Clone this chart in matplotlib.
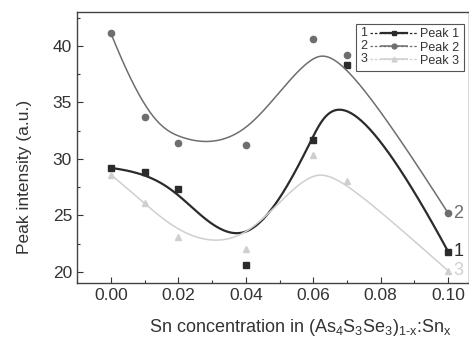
import matplotlib
matplotlib.use("Agg")
import matplotlib.pyplot as plt
import numpy as np
from matplotlib.lines import Line2D
from matplotlib.text import Text
from matplotlib.legend_handler import HandlerBase
from matplotlib.ticker import MultipleLocator

plt.rcParams['font.family'] = ['Liberation Sans', 'DejaVu Sans']
plt.rcParams['mathtext.fontset'] = 'custom'
plt.rcParams['mathtext.rm'] = 'Liberation Sans'
plt.rcParams['mathtext.it'] = 'Liberation Sans'

x = [0.00, 0.01, 0.02, 0.04, 0.06, 0.07, 0.10]
peak1 = [29.2, 28.8, 27.3, 20.6, 31.7, 38.3, 21.8]
peak2 = [41.1, 33.7, 31.4, 31.2, 40.6, 39.2, 25.2]
peak3 = [28.6, 26.1, 23.1, 22.0, 30.3, 28.0, 20.1]


# clamped cubic B-spline with the data points as control points (like Origin's B-spline connect)
def bspline(px, py, n=300, k=3):
    P = np.column_stack([px, py])
    m = len(P)
    knots = np.concatenate([np.zeros(k), np.linspace(0, 1, m - k + 1), np.ones(k)])
    t = np.linspace(0, 1, n)
    N = np.zeros((n, len(knots) - 1))
    for i in range(len(knots) - 1):
        N[:, i] = (t >= knots[i]) & (t < knots[i + 1])
    N[-1, m - 1] = 1.0
    for d in range(1, k + 1):
        Nn = np.zeros((n, len(knots) - 1 - d))
        for i in range(len(knots) - 1 - d):
            a = knots[i + d] - knots[i]
            b = knots[i + d + 1] - knots[i + 1]
            left = (t - knots[i]) / a * N[:, i] if a > 0 else 0
            right = (knots[i + d + 1] - t) / b * N[:, i + 1] if b > 0 else 0
            Nn[:, i] = left + right
        N = Nn
    C = N @ P
    return C[:, 0], C[:, 1]


series = [
    ("Peak 1", "1", peak1, "#2b2b2b", "s", 1.6),
    ("Peak 2", "2", peak2, "#6e6e6e", "o", 1.1),
    ("Peak 3", "3", peak3, "#cfcfcf", "^", 1.1),
]


class NumberedHandler(HandlerBase):
    def __init__(self, num, color, marker, lw):
        super().__init__()
        self.num, self.color, self.marker, self.lw = num, color, marker, lw

    def create_artists(self, legend, orig_handle, xdescent, ydescent,
                       width, height, fontsize, trans):
        yc = height / 2 - ydescent
        txt = Text(-xdescent, yc, self.num, fontsize=fontsize, va="center",
                   color="#333333", transform=trans)
        x0 = -xdescent + fontsize * 0.8
        l1 = Line2D([x0, width - xdescent], [yc, yc], color=self.color, lw=0.9,
                    ls=(0, (2, 1.5)), transform=trans)
        x1 = x0 + (width - xdescent - x0) * 0.22
        x2 = x0 + (width - xdescent - x0) * 0.78
        l2 = Line2D([x1, x2], [yc, yc], color=self.color, lw=self.lw, transform=trans)
        mk = Line2D([(x1 + x2) / 2], [yc], color=self.color, marker=self.marker,
                    ms=3.5, ls="none", transform=trans)
        return [l1, l2, mk, txt]


fig = plt.figure(figsize=(4.69, 3.42), dpi=100)
ax = fig.add_axes([0.164, 0.173, 0.836, 0.792])

handles = []
handler_map = {}
for name, num, vals, col, mk, lw in series:
    cx, cy = bspline(x, vals)
    ax.plot(cx, cy, color=col, lw=lw)
    h, = ax.plot(x, vals, ls="none", marker=mk, color=col, ms=4.5)
    handles.append(h)
    handler_map[h] = NumberedHandler(num, col, mk, lw)
    ax.text(x[-1] + 0.0015, vals[-1], num, color=col, fontsize=13, va="center", ha="left")

leg = ax.legend(handles, [s[0] for s in series], handler_map=handler_map,
                loc="upper right", bbox_to_anchor=(0.993, 0.965), fontsize=9,
                frameon=True, fancybox=False, edgecolor="#555555", framealpha=1,
                handlelength=4.6, handletextpad=0.2, labelspacing=0.1,
                borderpad=0.35, borderaxespad=0.2)
leg.get_frame().set_linewidth(0.8)
for t in leg.get_texts():
    t.set_color("#333333")

ax.set_xlim(-0.0101, 0.1062)
ax.set_ylim(19.03, 43.0)
ax.xaxis.set_major_locator(MultipleLocator(0.02))
ax.xaxis.set_minor_locator(MultipleLocator(0.01))
ax.yaxis.set_major_locator(MultipleLocator(5))
ax.yaxis.set_minor_locator(MultipleLocator(2.5))
ax.set_xticks(np.arange(0, 0.101, 0.02))
ax.set_xticklabels([f"{v:.2f}" for v in np.arange(0, 0.101, 0.02)])
ax.tick_params(which="both", direction="in", colors="#333333", labelcolor="#333333",
               labelsize=12.5, width=0.8)
ax.tick_params(which="major", length=4)
ax.tick_params(which="minor", length=2)
for sp in ax.spines.values():
    sp.set_color("#444444")
    sp.set_linewidth(1.0)

ax.set_xlabel(r"Sn concentration in (As$_{4}$S$_{3}$Se$_{3}$)$_{1\text{-}x}$:Sn$_{x}$",
              fontsize=13, color="#333333")
ax.xaxis.set_label_coords(0.569, -0.125)
ax.set_ylabel("Peak intensity (a.u.)", fontsize=12.5, color="#333333")
ax.yaxis.set_label_coords(-0.115, 0.39)

fig.savefig("out.png", dpi=100)
